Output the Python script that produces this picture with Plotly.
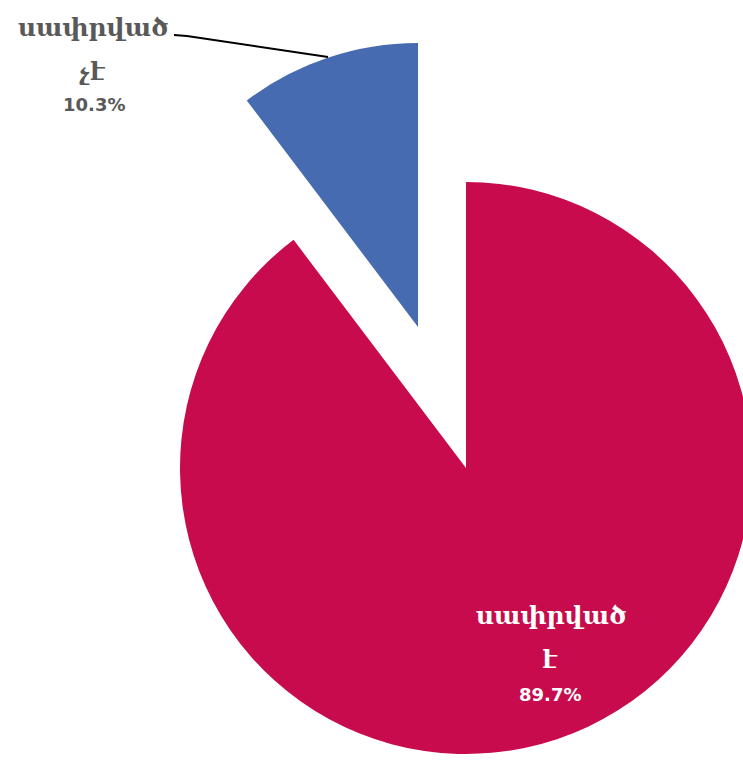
import plotly.graph_objects as go

labels = ["սափրված է", "սափրված չէ"]
label_lines = [["սափրված", "է"], ["սափրված", "չէ"]]
values = [89.7, 10.3]
colors = ["#C70B4C", "#466BB0"]

W, H = 760, 765

def px(x, y):
    return x / W, (H - y) / H

def dom(cx, cy, r):
    x0, y1 = px(cx - r, cy - r)
    x1, y0 = px(cx + r, cy + r)
    return dict(x=[x0, x1], y=[y0, y1])

fig = go.Figure()
# main (red) slice
fig.add_trace(go.Pie(
    labels=labels, values=values, sort=False, direction="clockwise", rotation=0,
    marker=dict(colors=[colors[0], "rgba(0,0,0,0)"], line=dict(width=0)),
    textinfo="none", hoverinfo="label+percent", showlegend=False,
    domain=dom(466, 468, 286),
))
# exploded (blue) slice
fig.add_trace(go.Pie(
    labels=labels, values=values, sort=False, direction="clockwise", rotation=0,
    marker=dict(colors=["rgba(0,0,0,0)", colors[1]], line=dict(width=0)),
    textinfo="none", hoverinfo="label+percent", showlegend=False,
    domain=dom(418, 327, 284),
))

arm_font = "DejaVu Serif, serif"
num_font = "DejaVu Sans, sans-serif"
annots = []
# blue label (outside, gray)
for txt, (x, y), fam, size in [
    (label_lines[1][0], (93, 28), arm_font, 25),
    (label_lines[1][1], (92, 71), arm_font, 25),
    (f"{values[1]}%", (94, 105), num_font, 18),
]:
    ax_, ay_ = px(x, y)
    annots.append(dict(x=ax_, y=ay_, xref="paper", yref="paper", text=f"<b>{txt}</b>",
                       showarrow=False, xanchor="center", yanchor="middle",
                       font=dict(family=fam, size=size, color="#595959")))
# red label (inside, white)
for txt, (x, y), fam, size in [
    (label_lines[0][0], (551, 615), arm_font, 25),
    (label_lines[0][1], (550, 659), arm_font, 25),
    (f"{values[0]}%", (550, 694), num_font, 18),
]:
    ax_, ay_ = px(x, y)
    annots.append(dict(x=ax_, y=ay_, xref="paper", yref="paper", text=f"<b>{txt}</b>",
                       showarrow=False, xanchor="center", yanchor="middle",
                       font=dict(family=fam, size=size, color="#FFFFFF")))

pts = [px(174, 35), px(187, 36), px(328, 57)]
path = "M " + " L ".join(f"{a},{b}" for a, b in pts)

fig.update_layout(
    width=W, height=H, margin=dict(l=0, r=0, t=0, b=0),
    paper_bgcolor="white", plot_bgcolor="white",
    annotations=annots,
    shapes=[dict(type="path", xref="paper", yref="paper", path=path,
                 line=dict(color="black", width=2))],
)

fig.write_html("out.html", config={"displayModeBar": False},
               post_script="document.documentElement.style.overflow='hidden';document.body.style.overflow='hidden';document.body.style.margin='0';")
